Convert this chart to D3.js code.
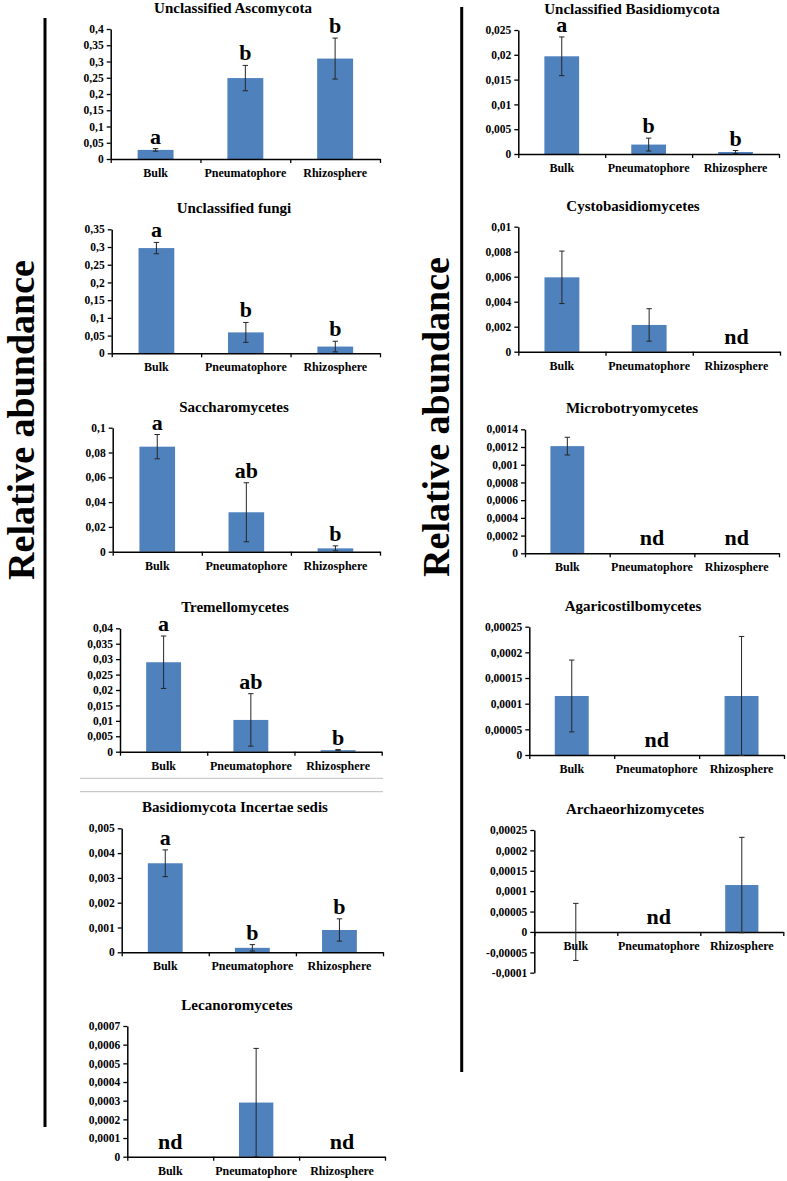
<!DOCTYPE html>
<html>
<head>
<meta charset="utf-8">
<script src="https://cdn.jsdelivr.net/npm/d3@7"></script>
<style>
  html, body { margin: 0; padding: 0; background: #fff; }
  svg { display: block; }
  text { font-family: "Liberation Serif", "Times New Roman", serif; font-weight: bold; fill: #000; }
</style>
</head>
<body>
<svg id="chart" width="787" height="1181"></svg>
<script>
// ============ Data ============
const categories = ['Bulk', 'Pneumatophore', 'Rhizosphere'];

const titles = [
  'Unclassified Ascomycota',
  'Unclassified fungi',
  'Saccharomycetes',
  'Tremellomycetes',
  'Basidiomycota Incertae sedis',
  'Lecanoromycetes',
  'Unclassified Basidiomycota',
  'Cystobasidiomycetes',
  'Microbotryomycetes',
  'Agaricostilbomycetes',
  'Archaeorhizomycetes'
];

// mean relative abundance per category (null = not detected)
const means = [
  [0.028, 0.249, 0.309],
  [0.297, 0.059, 0.019],
  [0.0847, 0.0318, 0.0027],
  [0.029, 0.0103, 0.0005],
  [0.00359, 0.00018, 0.0009],
  [null, 0.00029, null],
  [0.0197, 0.0019, 0.0004],
  [0.00595, 0.00214, null],
  [0.00121, null, null],
  [0.000115, null, 0.000115],
  [0, null, 0.000115]
];

// error bar half-length
const errors = [
  [0.004, 0.039, 0.063],
  [0.016, 0.028, 0.015],
  [0.0098, 0.0238, 0.002],
  [0.0085, 0.0085, 0.0002],
  [0.00054, 0.00013, 0.00045],
  [0, 0.00029, 0],
  [0.0039, 0.0013, 0.0003],
  [0.0021, 0.0013, 0],
  [0.0001, 0, 0],
  [0.00007, 0, 0.000116],
  [0.00007, 0, 0.000117]
];

const letters = [
  ['a', 'b', 'b'],
  ['a', 'b', 'b'],
  ['a', 'ab', 'b'],
  ['a', 'ab', 'b'],
  ['a', 'b', 'b'],
  ['nd', '', 'nd'],
  ['a', 'b', 'b'],
  ['', '', 'nd'],
  ['', 'nd', 'nd'],
  ['', 'nd', ''],
  ['', 'nd', '']
];

const yTicks = [
  [0, 0.05, 0.1, 0.15, 0.2, 0.25, 0.3, 0.35, 0.4],
  [0, 0.05, 0.1, 0.15, 0.2, 0.25, 0.3, 0.35],
  [0, 0.02, 0.04, 0.06, 0.08, 0.1],
  [0, 0.005, 0.01, 0.015, 0.02, 0.025, 0.03, 0.035, 0.04],
  [0, 0.001, 0.002, 0.003, 0.004, 0.005],
  [0, 0.0001, 0.0002, 0.0003, 0.0004, 0.0005, 0.0006, 0.0007],
  [0, 0.005, 0.01, 0.015, 0.02, 0.025],
  [0, 0.002, 0.004, 0.006, 0.008, 0.01],
  [0, 0.0002, 0.0004, 0.0006, 0.0008, 0.001, 0.0012, 0.0014],
  [0, 0.00005, 0.0001, 0.00015, 0.0002, 0.00025],
  [-0.0001, -0.00005, 0, 0.00005, 0.0001, 0.00015, 0.0002, 0.00025]
];

const yLabel = 'Relative abundance';

// ============ Layout (pixel frame of each panel) ============
// x0 = y-axis, x1 = end of x-axis, top/bottom = pixel of first/last tick
const frames = [
  { x0: 110.7, x1: 380,   top: 29,    bottom: 159,   tx: 233 },
  { x0: 111.7, x1: 380,   top: 229.3, bottom: 353.3, tx: 234 },
  { x0: 112.7, x1: 380,   top: 427.7, bottom: 551.7, tx: 234 },
  { x0: 120,   x1: 381.7, top: 628.3, bottom: 751.7, tx: 235 },
  { x0: 121.7, x1: 383,   top: 828.3, bottom: 952.3, tx: 235 },
  { x0: 127.3, x1: 385,   top: 1026,  bottom: 1156.7, tx: 237 },
  { x0: 518.3, x1: 779,   top: 30,    bottom: 154,   tx: 632 },
  { x0: 518.3, x1: 780,   top: 226.7, bottom: 351.7, tx: 633 },
  { x0: 525,   x1: 779,   top: 429.3, bottom: 553.3, tx: 632 },
  { x0: 529.3, x1: 784,   top: 626.7, bottom: 755,   tx: 633 },
  { x0: 534.3, x1: 783.3, top: 830,   bottom: 972.7, tx: 635 }
];

const barColor = '#4F81BD';
const axisColor = '#000';
const errColor = '#262626';
const serif = '"Liberation Serif", "Times New Roman", serif';

const fmt = v => (v === 0 ? '0' : String(+v.toFixed(6))).replace('.', ',');

const svg = d3.select('#chart');

// ============ Frame lines and big labels ============
svg.append('line')
  .attr('x1', 45).attr('x2', 45).attr('y1', 18).attr('y2', 1127)
  .attr('stroke', '#000').attr('stroke-width', 3);

svg.append('line')
  .attr('x1', 461.7).attr('x2', 461.7).attr('y1', 7).attr('y2', 1072)
  .attr('stroke', '#000').attr('stroke-width', 3);

[778.3, 791.7].forEach(y => {
  svg.append('line')
    .attr('x1', 80).attr('x2', 383).attr('y1', y).attr('y2', y)
    .attr('stroke', '#bdbdbd').attr('stroke-width', 1);
});

[{ x: 34, y: 420 }, { x: 449, y: 417 }].forEach(p => {
  svg.append('text')
    .attr('transform', `translate(${p.x},${p.y}) rotate(-90)`)
    .attr('text-anchor', 'middle')
    .style('font-family', serif)
    .style('font-size', '38px')
    .text(yLabel);
});

// ============ Panels ============
titles.forEach((title, i) => {
  const f = frames[i];
  const ticks = yTicks[i];
  const g = svg.append('g');

  const y = d3.scaleLinear()
    .domain([ticks[0], ticks[ticks.length - 1]])
    .range([f.bottom, f.top]);

  const x = d3.scaleBand()
    .domain(categories)
    .range([f.x0, f.x1])
    .paddingInner(0.6)
    .paddingOuter(0.3);

  const xEdges = d3.scaleLinear().domain([0, 3]).range([f.x0, f.x1]);
  const y0 = y(0);

  // title
  g.append('text')
    .attr('x', f.tx)
    .attr('y', f.top - 16)
    .attr('text-anchor', 'middle')
    .style('font-family', serif)
    .style('font-size', '15px')
    .text(title);

  // bars
  categories.forEach((c, j) => {
    const m = means[i][j];
    if (m === null) return;
    g.append('rect')
      .attr('x', x(c))
      .attr('width', x.bandwidth())
      .attr('y', y(Math.max(m, 0)))
      .attr('height', Math.abs(y(m) - y0))
      .attr('fill', barColor);
  });

  // y axis
  const yAxis = g.append('g')
    .attr('transform', `translate(${f.x0},0)`)
    .call(d3.axisLeft(y).tickValues(ticks).tickFormat(fmt).tickSize(4).tickSizeOuter(0).tickPadding(3));
  yAxis.attr('font-family', null).attr('font-size', null);
  yAxis.select('.domain').attr('stroke', axisColor).attr('stroke-width', 1.5);
  yAxis.selectAll('.tick line').attr('stroke', axisColor).attr('stroke-width', 1.3);
  yAxis.selectAll('.tick text')
    .style('font-size', '11.5px')
    .style('font-family', serif)
    .style('font-weight', 'bold')
    .attr('fill', '#000');

  // x axis (category boundaries)
  const xAxis = g.append('g')
    .attr('transform', `translate(0,${y0})`)
    .call(d3.axisBottom(xEdges).tickValues([0, 1, 2, 3]).tickFormat('').tickSize(4).tickSizeOuter(0));
  xAxis.select('.domain').attr('stroke', axisColor).attr('stroke-width', 1.5);
  xAxis.selectAll('.tick line').attr('stroke', axisColor).attr('stroke-width', 1.3);

  // category labels
  categories.forEach(c => {
    g.append('text')
      .attr('x', x(c) + x.bandwidth() / 2)
      .attr('y', y0 + 18)
      .attr('text-anchor', 'middle')
      .style('font-family', serif)
      .style('font-size', '12px')
      .text(c);
  });

  // error bars
  categories.forEach((c, j) => {
    const m = means[i][j];
    const e = errors[i][j];
    if (m === null || !e) return;
    const cx = x(c) + x.bandwidth() / 2;
    const yHi = y(m + e);
    const yLo = y(m - e);
    g.append('line')
      .attr('x1', cx).attr('x2', cx).attr('y1', yHi).attr('y2', yLo)
      .attr('stroke', errColor).attr('stroke-width', 1);
    [yHi, yLo].forEach(yy => {
      g.append('line')
        .attr('x1', cx - 2.7).attr('x2', cx + 2.7).attr('y1', yy).attr('y2', yy)
        .attr('stroke', errColor).attr('stroke-width', 1);
    });
  });

  // significance letters / nd
  categories.forEach((c, j) => {
    const t = letters[i][j];
    if (!t) return;
    const cx = x(c) + x.bandwidth() / 2;
    const m = means[i][j];
    const ty = t === 'nd' ? y0 - 8 : y(m + errors[i][j]) - 5;
    g.append('text')
      .attr('x', cx)
      .attr('y', ty)
      .attr('text-anchor', 'middle')
      .style('font-family', serif)
      .style('font-size', '22px')
      .text(t);
  });
});
</script>
</body>
</html>
